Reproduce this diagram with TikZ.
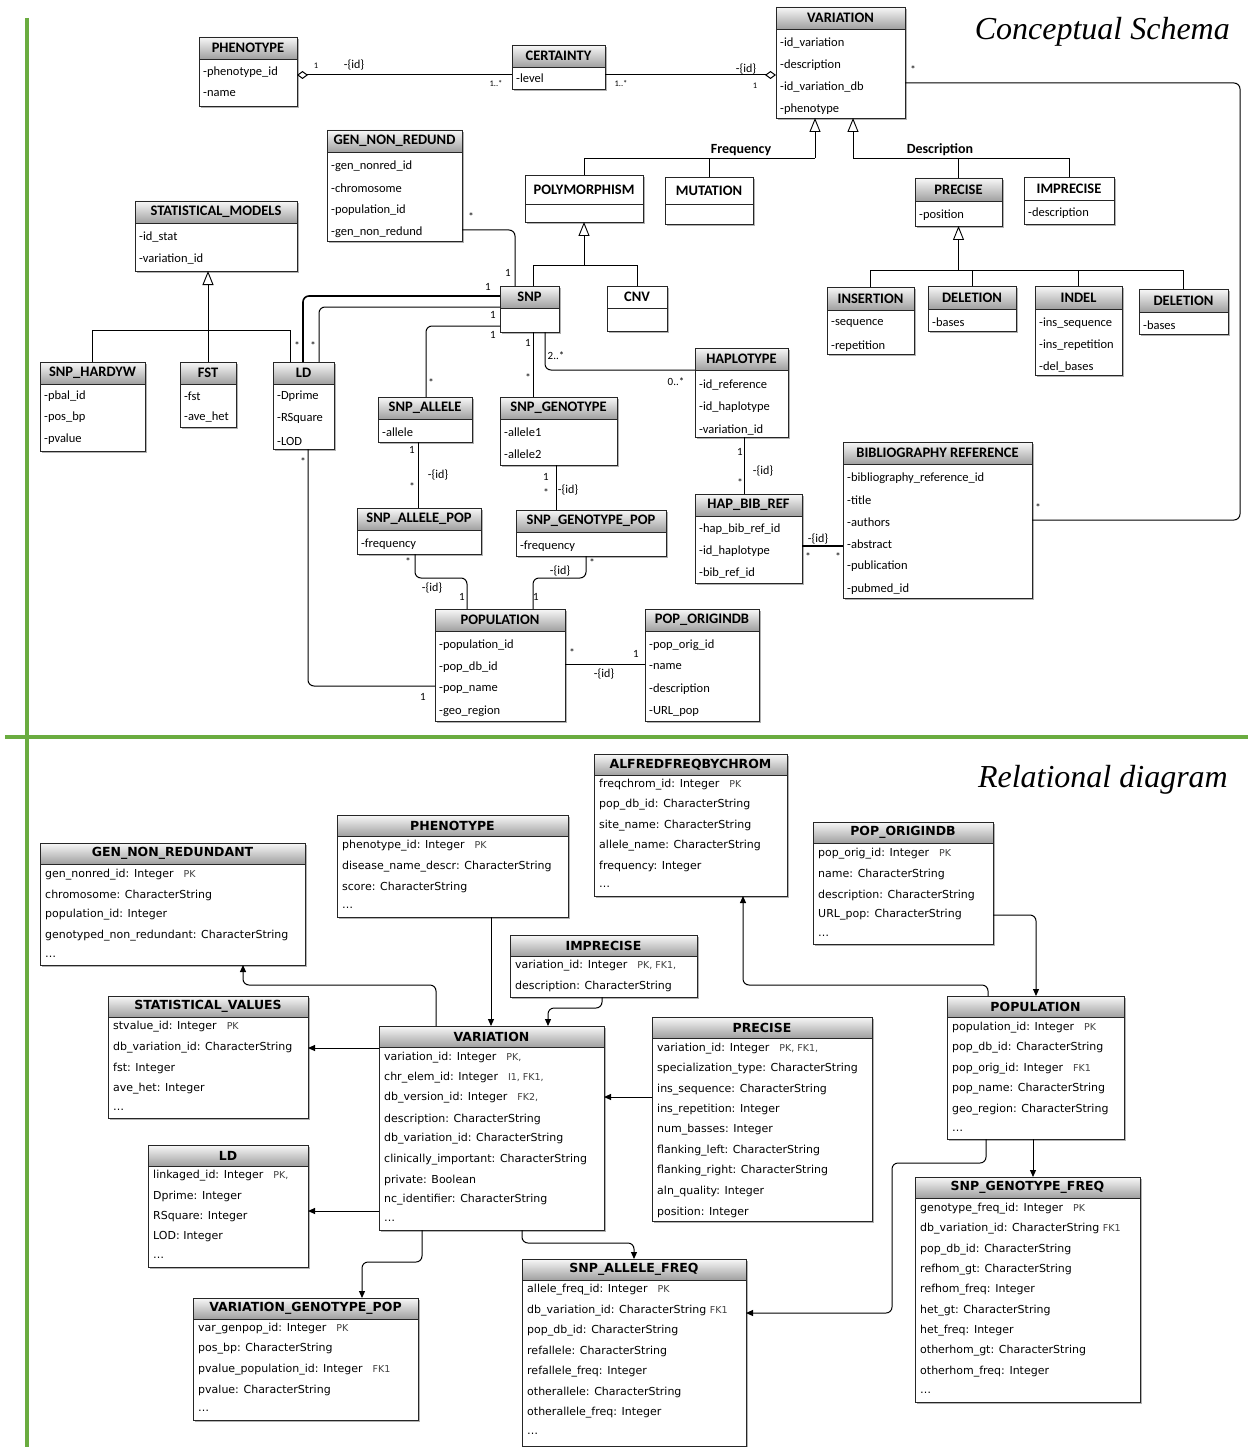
\documentclass[tikz,border=0pt]{standalone}
\usepackage{fontspec}
\setmainfont{Carlito}
\newfontfamily\relfont{DejaVu Sans}
\newfontfamily\ttlfont{Liberation Serif}
\usetikzlibrary{arrows.meta}
\definecolor{grn}{RGB}{106,172,64}
\definecolor{hdtop}{RGB}{248,248,248}
\definecolor{hdbot}{RGB}{160,160,160}
\newcommand\tagf{\fontsize{9.5}{9.5}\selectfont\color{black!75}}
\newcommand\tagx[1]{\hspace{10pt}{\tagf #1}}
\tikzset{
  box/.style={draw=black!85, line width=0.9pt, fill=white, inner sep=0pt, outer sep=0pt},
  boxl/.style={draw=black!85, line width=0.9pt},
  hd/.style={font=\bfseries\fontsize{14.5}{14.5}\selectfont, inner sep=0pt},
  atr/.style={font=\fontsize{12.5}{12.5}\selectfont, anchor=west, inner sep=0pt},
  ml/.style={font=\fontsize{11}{11}\selectfont, inner sep=0pt},
  mls/.style={font=\fontsize{8.5}{8.5}\selectfont, inner sep=0pt},
  idl/.style={font=\fontsize{12}{12}\selectfont, inner sep=0pt},
  lbl/.style={font=\bfseries\fontsize{14}{14}\selectfont, inner sep=0pt},
  conn/.style={line width=1pt, rounded corners=6pt},
  genl/.style={line width=0.9pt},
  gen/.style={line width=0.9pt, -{Triangle[open, width=11pt, length=14pt]}},
  rel/.style={line width=1pt, rounded corners=6pt, -{Triangle[width=6pt, length=7pt]}},
  ttl/.style={font=\ttlfont\itshape\fontsize{32}{32}\selectfont, inner sep=0pt, anchor=east},
}
% #1 id, #2 x1, #3 y1, #4 x2, #5 y2, #6 header height, #7 title, #8 shaded header (1/0)
\newcommand\uclass[8]{%
  \fill[gray!60] (#2+2,#3+2) rectangle (#4+2,#5+2);
  \node[box, anchor=north west, minimum width={#4-#2}, minimum height={#5-#3}] (#1) at (#2,#3) {};
  \ifnum#8=1 \shade[top color=hdtop, bottom color=hdbot] (#2,#3) rectangle (#4,#3+#6);\fi
  \draw[boxl] (#2,#3+#6) -- (#4,#3+#6);
  \node[hd] (#1-h) at ({(#2+#4)/2},{#3+#6/2}) {#7};
  \draw[boxl] (#1.north west) rectangle (#1.south east);
}
\newcommand\crows[3]{\foreach \yy/\tx [count=\i] in {#3} {\node[atr] (#1-r\i) at (#2,\yy) {\tx};}}
\begin{document}
\begin{tikzpicture}[x=1pt, y=-1pt]
\useasboundingbox (0,0) rectangle (1248,1447);
\fill[white] (0,0) rectangle (1248,1447);
% separators
\draw[grn, line width=4pt] (27,18) -- (27,1447);
\draw[grn, line width=4pt] (5,737) -- (1248,737);
\node[ttl] (t1) at (1230,32) {Conceptual Schema};
\node[ttl] (t2) at (1228,780) {Relational diagram};

% ---------------- conceptual schema ----------------
\uclass{PHEN}{199}{37}{297}{106}{22}{PHENOTYPE}{1}
\crows{PHEN}{203}{72/-phenotype\_id, 94/-name}
\uclass{CERT}{512}{45}{605}{89}{22}{CERTAINTY}{1}
\crows{CERT}{516}{78/-level}
\uclass{VAR}{776}{7}{905}{118}{22}{VARIATION}{1}
\crows{VAR}{780}{43/-id\_variation, 65/-description, 87/-id\_variation\_db, 109/-phenotype}
\uclass{GNR}{327}{130}{462}{241}{22}{GEN\_NON\_REDUND}{1}
\crows{GNR}{331}{166/-gen\_nonred\_id, 188/-chromosome, 210/-population\_id, 232/-gen\_non\_redund}
\uclass{POLY}{525}{175}{643}{222}{29}{POLYMORPHISM}{0}
\uclass{MUT}{665}{177}{753}{224}{27}{MUTATION}{0}
\uclass{PREC}{915}{178}{1002}{226}{23}{PRECISE}{1}
\crows{PREC}{919}{215/-position}
\uclass{IMPR}{1024}{177}{1114}{224}{23}{IMPRECISE}{0}
\crows{IMPR}{1028}{213/-description}
\uclass{SM}{135}{201}{297}{271}{22}{STATISTICAL\_MODELS}{1}
\crows{SM}{139}{237/-id\_stat, 259/-variation\_id}
\uclass{SNP}{500}{286}{559}{332}{22}{SNP}{1}
\uclass{CNV}{607}{286}{667}{331}{22}{CNV}{0}
\uclass{INS}{827}{287}{914}{354}{23}{INSERTION}{1}
\crows{INS}{831}{323/-sequence, 346/-repetition}
\uclass{DELA}{928}{286}{1016}{331}{23}{DELETION}{1}
\crows{DELA}{932}{322/-bases}
\uclass{INDEL}{1035}{286}{1122}{375}{23}{INDEL}{1}
\crows{INDEL}{1039}{323/-ins\_sequence, 345/-ins\_repetition, 367/-del\_bases}
\uclass{DELB}{1139}{289}{1228}{334}{23}{DELETION}{1}
\crows{DELB}{1143}{325/-bases}
\uclass{HW}{40}{362}{145}{451}{22}{SNP\_HARDYW}{1}
\crows{HW}{44}{396/-pbal\_id, 417/-pos\_bp, 439/-pvalue}
\uclass{FST}{180}{362}{236}{427}{22}{FST}{1}
\crows{FST}{184}{396/-fst, 417/-ave\_het}
\uclass{LD}{273}{362}{334}{449}{22}{LD}{1}
\crows{LD}{277}{396/-Dprime, 418/-RSquare, 441/-LOD}
\uclass{SA}{378}{397}{472}{442}{22}{SNP\_ALLELE}{1}
\crows{SA}{382}{432/-allele}
\uclass{SG}{500}{397}{617}{465}{22}{SNP\_GENOTYPE}{1}
\crows{SG}{504}{432/-allele1, 454/-allele2}
\uclass{HAP}{695}{348}{788}{437}{22}{HAPLOTYPE}{1}
\crows{HAP}{699}{385/-id\_reference, 407/-id\_haplotype, 430/-variation\_id}
\uclass{SAP}{357}{508}{481}{554}{22}{SNP\_ALLELE\_POP}{1}
\crows{SAP}{361}{544/-frequency}
\uclass{SGP}{516}{510}{666}{556}{22}{SNP\_GENOTYPE\_POP}{1}
\crows{SGP}{520}{546/-frequency}
\uclass{HBR}{695}{494}{802}{583}{22}{HAP\_BIB\_REF}{1}
\crows{HBR}{699}{529/-hap\_bib\_ref\_id, 551/-id\_haplotype, 573/-bib\_ref\_id}
\uclass{BIB}{843}{442}{1032}{598}{22}{BIBLIOGRAPHY REFERENCE}{1}
\crows{BIB}{847}{478/-bibliography\_reference\_id, 500/-title, 522/-authors, 544/-abstract, 566/-publication, 589/-pubmed\_id}
\uclass{POP}{435}{609}{565}{721}{22}{POPULATION}{1}
\crows{POP}{439}{645/-population\_id, 667/-pop\_db\_id, 689/-pop\_name, 711/-geo\_region}
\uclass{PO}{645}{609}{759}{721}{22}{POP\_ORIGINDB}{1}
\crows{PO}{649}{645/-pop\_orig\_id, 667/-name, 689/-description, 711/-URL\_pop}

% aggregations
\draw[conn, {Diamond[open, width=8pt, length=11pt]}-] (PHEN.east |- 0,75) -- (CERT.west |- 0,75);
\node[mls] (m1) at (316,66) {1};
\node[idl] (i1) at (354,65) {-\{id\}};
\node[mls] (m2) at (496,84) {1..*};
\draw[conn, -{Diamond[open, width=8pt, length=11pt]}] (CERT.east |- 0,75) -- (VAR.west |- 0,75);
\node[mls] (m3) at (621,84) {1..*};
\node[idl] (i2) at (746,69) {-\{id\}};
\node[mls] (m4) at (755,86) {1};
\draw[conn] (VAR.east |- 0,83) -- (1240,83) -- (1240,520) -- (BIB.east |- 0,520);
\node[ml] (m5) at (913,70) {*};
\node[ml] (m6) at (1038,508) {*};

% generalizations
\draw[genl] (POLY.north) |- (815,158);
\draw[genl] (MUT.north) -- (MUT.north |- 0,158);
\draw[gen] (815,158) -- (VAR.south -| 815,0);
\node[lbl] (fq) at (741,150) {Frequency};
\draw[genl] (IMPR.north) |- (853,158);
\draw[genl] (PREC.north) -- (PREC.north |- 0,158);
\draw[gen] (853,158) -- (VAR.south -| 853,0);
\node[lbl] (ds) at (940,150) {Description};
\draw[gen] (PREC.south |- 0,270) -- (PREC.south);
\draw[genl] (INS.north) |- (DELB.north |- 0,270) -- (DELB.north);
\draw[genl] (DELA.north) -- (DELA.north |- 0,270);
\draw[genl] (INDEL.north) -- (INDEL.north |- 0,270);
\draw[gen] (FST.north) -- (FST.north |- SM.south);
\draw[genl] (HW.north) |- (290,330) -- (LD.north -| 290,0);
\draw[gen] (POLY.south |- 0,265) -- (POLY.south);
\draw[genl] (SNP.north -| 533,0) |- (CNV.north |- 0,265) -- (CNV.north);

% associations
\draw[conn] (GNR.east |- 0,230) -| (SNP.north -| 515,0);
\node[ml] (m7) at (471,217) {*};
\node[ml] (m8) at (508,273) {1};
\draw[conn, line width=1.6pt] (SNP.west |- 0,296) -| (LD.north -| 303,0);
\draw[conn] (SNP.west |- 0,307) -| (LD.north -| 319,0);
\node[ml] (m9) at (488,287) {1};
\node[ml] (m10) at (297,346) {*};
\node[ml] (m11) at (313,346) {*};
\node[ml] (m12) at (493,315) {1};
\draw[conn] (SNP.west |- 0,326) -| (SA.north -| 426,0);
\node[ml] (m13) at (493,335) {1};
\node[ml] (m14) at (431,383) {*};
\draw[conn] (SNP.south -| 533,0) -- (SG.north -| 533,0);
\node[ml] (m15) at (528,343) {1};
\node[ml] (m16) at (528,378) {*};
\draw[conn] (SNP.south -| 545,0) |- (HAP.west |- 0,370);
\node[ml] (m17) at (556,356) {2..*};
\node[ml] (m18) at (676,382) {0..*};
\draw[conn] (SA.south -| 418,0) -- (SAP.north -| 418,0);
\node[ml] (m19) at (412,450) {1};
\node[idl] (i3) at (438,475) {-\{id\}};
\node[ml] (m20) at (412,487) {*};
\draw[conn] (SG.south -| 556,0) -- (SGP.north -| 556,0);
\node[ml] (m21) at (546,477) {1};
\node[ml] (m22) at (546,493) {*};
\node[idl] (i4) at (568,490) {-\{id\}};
\draw[conn] (SAP.south -| 415,0) |- (467,578) -- (POP.north -| 467,0);
\node[ml] (m23) at (408,562) {*};
\node[idl] (i5) at (432,588) {-\{id\}};
\node[ml] (m24) at (462,597) {1};
\draw[conn] (SGP.south -| 586,0) |- (533,578) -- (POP.north -| 533,0);
\node[ml] (m25) at (592,563) {*};
\node[idl] (i6) at (560,571) {-\{id\}};
\node[ml] (m26) at (536,597) {1};
\draw[conn] (LD.south -| 308,0) |- (POP.west |- 0,686);
\node[ml] (m27) at (303,462) {*};
\node[ml] (m28) at (423,697) {1};
\draw[conn] (POP.east |- 0,664) -- (PO.west |- 0,664);
\node[ml] (m29) at (572,653) {*};
\node[idl] (i7) at (604,674) {-\{id\}};
\node[ml] (m30) at (636,654) {1};
\draw[conn] (HAP.south -| 744,0) -- (HBR.north -| 744,0);
\node[ml] (m31) at (740,452) {1};
\node[idl] (i8) at (763,471) {-\{id\}};
\node[ml] (m32) at (740,483) {*};
\draw[conn, line width=2pt] (HBR.east |- 0,546) -- (BIB.west |- 0,546);
\node[idl] (i9) at (818,539) {-\{id\}};
\node[ml] (m33) at (808,557) {*};
\node[ml] (m34) at (838,557) {*};

% ---------------- relational diagram ----------------
\begin{scope}[hd/.style={font=\relfont\bfseries\fontsize{12.5}{12.5}\selectfont, inner sep=0pt},
              atr/.style={font=\relfont\fontsize{11}{11}\selectfont, anchor=west, inner sep=0pt}]
\uclass{ALF}{594}{754}{787}{896}{21}{ALFREDFREQBYCHROM}{1}
\crows{ALF}{599}{785/{freqchrom\_id: Integer\tagx{PK}}, 805/{pop\_db\_id: CharacterString}, 826/{site\_name: CharacterString}, 846/{allele\_name: CharacterString}, 866/{frequency: Integer}, 887/{\ldots}}
\uclass{BPO}{813}{822}{993}{944}{21}{POP\_ORIGINDB}{1}
\crows{BPO}{818}{854/{pop\_orig\_id: Integer\tagx{PK}}, 874/{name: CharacterString}, 895/{description: CharacterString}, 915/{URL\_pop: CharacterString}, 936/{\ldots}}
\uclass{BPH}{337}{815}{568}{917}{21}{PHENOTYPE}{1}
\crows{BPH}{342}{846/{phenotype\_id: Integer\tagx{PK}}, 867/{disease\_name\_descr: CharacterString}, 887/{score: CharacterString}, 908/{\ldots}}
\uclass{GNR2}{40}{843}{305}{965}{21}{GEN\_NON\_REDUNDANT}{1}
\crows{GNR2}{45}{875/{gen\_nonred\_id: Integer\tagx{PK}}, 895/{chromosome: CharacterString}, 915/{population\_id: Integer}, 936/{genotyped\_non\_redundant: CharacterString}, 957/{\ldots}}
\uclass{IMP2}{510}{935}{697}{997}{21}{IMPRECISE}{1}
\crows{IMP2}{515}{966/{variation\_id: Integer\tagx{PK, FK1,}}, 986/{description: CharacterString}}
\uclass{SV}{108}{996}{308}{1118}{21}{STATISTICAL\_VALUES}{1}
\crows{SV}{113}{1027/{stvalue\_id: Integer\tagx{PK}}, 1048/{db\_variation\_id: CharacterString}, 1068/{fst: Integer}, 1089/{ave\_het: Integer}, 1110/{\ldots}}
\uclass{VAR2}{379}{1026}{604}{1230}{21}{VARIATION}{1}
\crows{VAR2}{384}{1058/{variation\_id: Integer\tagx{PK,}}, 1078/{chr\_elem\_id: Integer\tagx{I1, FK1,}}, 1098/{db\_version\_id: Integer\tagx{FK2,}}, 1119/{description: CharacterString}, 1139/{db\_variation\_id: CharacterString}, 1160/{clinically\_important: CharacterString}, 1180/{private: Boolean}, 1200/{nc\_identifier: CharacterString}, 1221/{\ldots}}
\uclass{PRE2}{652}{1017}{872}{1221}{21}{PRECISE}{1}
\crows{PRE2}{657}{1049/{variation\_id: Integer\tagx{PK, FK1,}}, 1069/{specialization\_type: CharacterString}, 1090/{ins\_sequence: CharacterString}, 1110/{ins\_repetition: Integer}, 1130/{num\_basses: Integer}, 1151/{flanking\_left: CharacterString}, 1171/{flanking\_right: CharacterString}, 1192/{aln\_quality: Integer}, 1212/{position: Integer}}
\uclass{POP2}{947}{996}{1124}{1139}{21}{POPULATION}{1}
\crows{POP2}{952}{1028/{population\_id: Integer\tagx{PK}}, 1048/{pop\_db\_id: CharacterString}, 1069/{pop\_orig\_id: Integer\tagx{FK1}}, 1089/{pop\_name: CharacterString}, 1110/{geo\_region: CharacterString}, 1131/{\ldots}}
\uclass{LD2}{148}{1145}{308}{1267}{21}{LD}{1}
\crows{LD2}{153}{1176/{linkaged\_id: Integer\tagx{PK,}}, 1196/{Dprime: Integer}, 1217/{RSquare: Integer}, 1237/{LOD: Integer}, 1258/{\ldots}}
\uclass{VGP}{193}{1298}{418}{1420}{21}{VARIATION\_GENOTYPE\_POP}{1}
\crows{VGP}{198}{1329/{var\_genpop\_id: Integer\tagx{PK}}, 1349/{pos\_bp: CharacterString}, 1370/{pvalue\_population\_id: Integer\tagx{FK1}}, 1390/{pvalue: CharacterString}, 1411/{\ldots}}
\uclass{SAF}{522}{1259}{746}{1446}{21}{SNP\_ALLELE\_FREQ}{1}
\crows{SAF}{527}{1290/{allele\_freq\_id: Integer\tagx{PK}}, 1311/{db\_variation\_id: CharacterString {\tagf FK1}}, 1331/{pop\_db\_id: CharacterString}, 1351/{refallele: CharacterString}, 1372/{refallele\_freq: Integer}, 1392/{otherallele: CharacterString}, 1413/{otherallele\_freq: Integer}, 1434/{\ldots}}
\uclass{SGF}{915}{1177}{1140}{1402}{21}{SNP\_GENOTYPE\_FREQ}{1}
\crows{SGF}{920}{1209/{genotype\_freq\_id: Integer\tagx{PK}}, 1229/{db\_variation\_id: CharacterString {\tagf FK1}}, 1250/{pop\_db\_id: CharacterString}, 1270/{refhom\_gt: CharacterString}, 1290/{refhom\_freq: Integer}, 1311/{het\_gt: CharacterString}, 1331/{het\_freq: Integer}, 1351/{otherhom\_gt: CharacterString}, 1372/{otherhom\_freq: Integer}, 1393/{\ldots}}
\end{scope}

\draw[rel] (BPH.south -| 491,0) -- (VAR2.north -| 491,0);
\draw[rel] (IMP2.south -| 602,0) |- (548,1008) -- (VAR2.north -| 548,0);
\draw[rel] (VAR2.north -| 436,0) |- (243,985) -- (GNR2.south -| 243,0);
\draw[rel] (VAR2.west |- 0,1048) -- (SV.east |- 0,1048);
\draw[rel] (VAR2.west |- 0,1211) -- (LD2.east |- 0,1211);
\draw[rel] (VAR2.south -| 422,0) |- (362,1262) -- (VGP.north -| 362,0);
\draw[rel] (VAR2.south -| 522,0) |- (634,1243) -- (SAF.north -| 634,0);
\draw[rel] (PRE2.west |- 0,1097) -- (VAR2.east |- 0,1097);
\draw[rel] (BPO.east |- 0,915) -| (POP2.north -| 1036,0);
\draw[rel] (POP2.north -| 988,0) |- (743,985) -- (ALF.south -| 743,0);
\draw[rel] (POP2.south -| 1033,0) -- (SGF.north -| 1033,0);
\draw[rel] (POP2.south -| 986,0) |- (892,1163) |- (SAF.east |- 0,1313);
\end{tikzpicture}
\end{document}
